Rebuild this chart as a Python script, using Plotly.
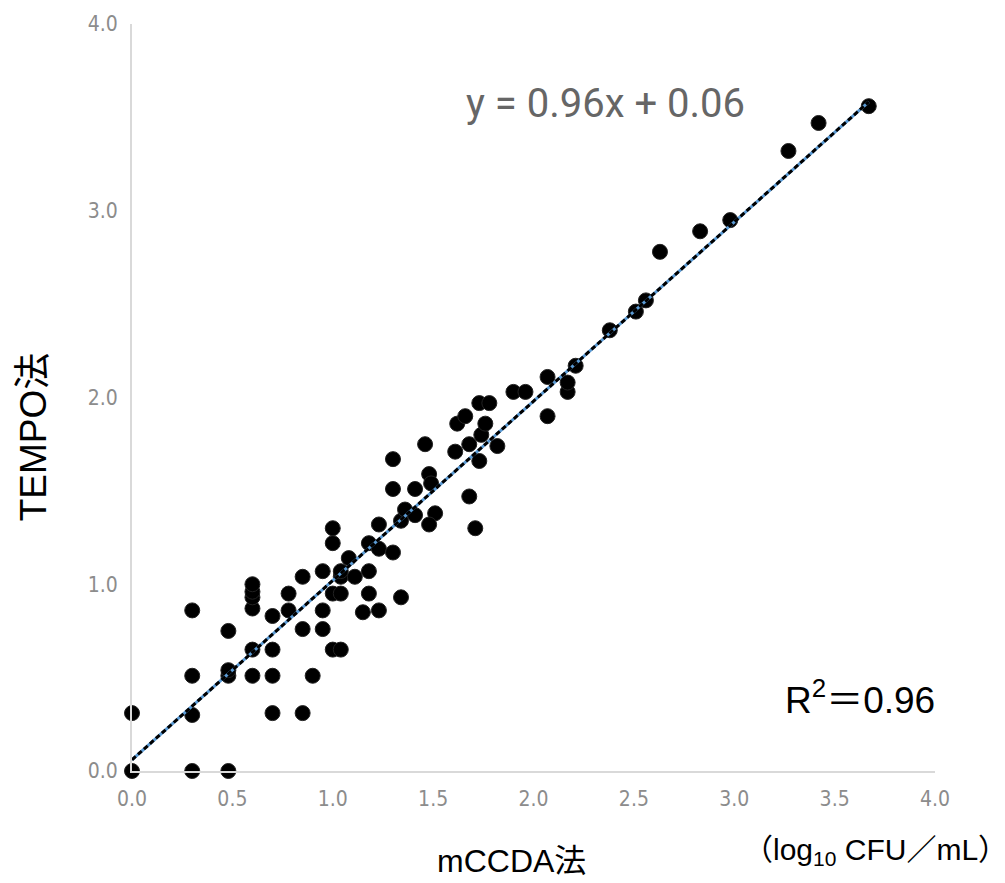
import plotly.graph_objects as go

# mCCDA method (log10 CFU/mL)
mccda = [0.00, 0.00, 0.30, 0.30, 0.30, 0.30, 0.48, 0.48, 0.48, 0.48,
         0.60, 0.60, 0.60, 0.60, 0.60, 0.60, 0.70, 0.70, 0.70, 0.70,
         0.78, 0.78, 0.85, 0.85, 0.85, 0.90, 0.95, 0.95, 0.95,
         1.00, 1.00, 1.00, 1.00, 1.04, 1.04, 1.04, 1.04, 1.08, 1.11,
         1.15, 1.18, 1.18, 1.18, 1.23, 1.23, 1.23, 1.30, 1.30, 1.30,
         1.34, 1.36, 1.34, 1.41, 1.41, 1.51, 1.46, 1.48, 1.49, 1.48,
         1.61, 1.62, 1.66, 1.68, 1.68, 1.71, 1.73, 1.74, 1.76, 1.73,
         1.78, 1.82, 1.90, 1.96, 2.07, 2.07, 2.17, 2.17, 2.21, 2.38,
         2.51, 2.56, 2.63, 2.83, 2.98, 3.27, 3.42, 3.67]
# TEMPO method (log10 CFU/mL)
tempo = [0.00, 0.31, 0.00, 0.30, 0.51, 0.86, 0.00, 0.51, 0.54, 0.75,
         0.51, 0.65, 0.87, 0.93, 0.96, 1.00, 0.31, 0.51, 0.65, 0.83,
         0.86, 0.95, 0.31, 0.76, 1.04, 0.51, 0.76, 0.86, 1.07,
         0.65, 0.95, 1.22, 1.30, 0.65, 0.95, 1.04, 1.07, 1.14, 1.04,
         0.85, 0.95, 1.07, 1.22, 0.86, 1.19, 1.32, 1.17, 1.51, 1.67,
         1.34, 1.40, 0.93, 1.37, 1.51, 1.38, 1.75, 1.59, 1.54, 1.32,
         1.71, 1.86, 1.90, 1.47, 1.75, 1.30, 1.66, 1.80, 1.86, 1.97,
         1.97, 1.74, 2.03, 2.03, 1.90, 2.11, 2.03, 2.08, 2.17, 2.36,
         2.46, 2.52, 2.78, 2.89, 2.95, 3.32, 3.47, 3.56]

slope = 0.96
intercept = 0.06
fit_x = [0.0, 3.67]
fit_y = [slope * v + intercept for v in fit_x]

tick_vals_x = [0.0, 0.5, 1.0, 1.5, 2.0, 2.5, 3.0, 3.5, 4.0]
tick_text_x = ["0.0", "0.5", "1.0", "1.5", "2.0", "2.5", "3.0", "3.5", "4.0"]
tick_vals_y = [0.0, 1.0, 2.0, 3.0, 4.0]
tick_text_y = ["0.0", "1.0", "2.0", "3.0", "4.0"]

fig = go.Figure()
fig.add_trace(go.Scatter(x=mccda, y=tempo, mode="markers",
                         marker=dict(color="black", size=15,
                                     line=dict(color="#222222", width=1)),
                         cliponaxis=False, showlegend=False))
fig.add_trace(go.Scatter(x=fit_x, y=fit_y, mode="lines",
                         line=dict(color="#5B9BD5", width=3),
                         cliponaxis=False, showlegend=False))
fig.add_trace(go.Scatter(x=fit_x, y=fit_y, mode="lines",
                         line=dict(color="black", width=3, dash="5px,3px"),
                         cliponaxis=False, showlegend=False))

tick_font = dict(family="Liberation Sans Narrow, DejaVu Sans Condensed, Liberation Sans, sans-serif",
                 size=21, color="#8c8c8c")
main_font = "Liberation Sans, Noto Sans CJK JP, sans-serif"

fig.update_layout(
    width=1005, height=883,
    margin=dict(l=132, r=70, t=20, b=112),
    paper_bgcolor="white", plot_bgcolor="white",
    xaxis=dict(range=[0, 4], autorange=False, tickvals=tick_vals_x, ticktext=tick_text_x,
               showgrid=False, zeroline=False, showline=True, linecolor="#d9d9d9",
               linewidth=2, ticks="", tickfont=tick_font, ticklabelstandoff=8),
    yaxis=dict(range=[0, 4], autorange=False, tickvals=tick_vals_y, ticktext=tick_text_y,
               showgrid=False, zeroline=False, showline=True, linecolor="#d9d9d9",
               linewidth=2, ticks="", tickfont=tick_font, ticklabelstandoff=8),
    annotations=[
        dict(text="mCCDA法", xref="paper", yref="paper", x=0.473, y=-0.121,
             showarrow=False, font=dict(family=main_font, size=32, color="black"),
             xanchor="center", yanchor="middle"),
        dict(text="TEMPO法", xref="paper", yref="paper", x=-0.123, y=0.447,
             showarrow=False, textangle=-90,
             font=dict(family=main_font, size=37, color="black"),
             xanchor="center", yanchor="middle"),
        dict(text="y = 0.96x + 0.06", xref="paper", yref="paper", x=0.590, y=0.893,
             showarrow=False, font=dict(family="Roboto, Liberation Sans, sans-serif", size=40, color="#666666"),
             xanchor="center", yanchor="middle"),
        dict(text="R<sup>2</sup>＝0.96", xref="paper", yref="paper", x=0.907, y=0.0985,
             showarrow=False, font=dict(family=main_font, size=37, color="black"),
             xanchor="center", yanchor="middle"),
        dict(text="（log<sub>10</sub> CFU／mL）", xref="paper", yref="paper", x=0.926, y=-0.108,
             showarrow=False, font=dict(family=main_font, size=30, color="black"),
             xanchor="center", yanchor="middle"),
    ],
)

fig.write_html("out.html",
               config={"displayModeBar": False},
               post_script="document.body.style.margin='0';document.body.style.overflow='hidden';")
